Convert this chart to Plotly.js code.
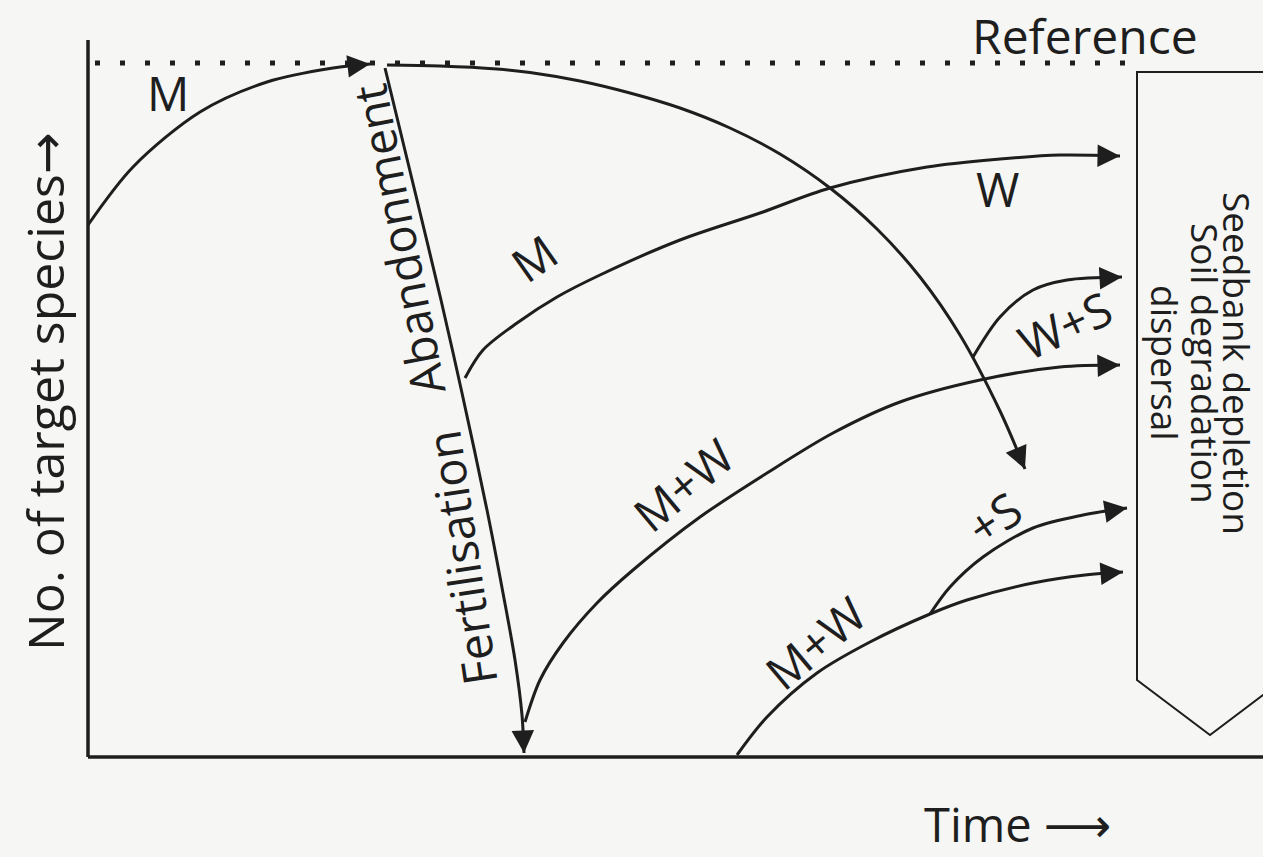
<!DOCTYPE html>
<html>
<head>
<meta charset="utf-8">
<script src="https://cdn.plot.ly/plotly-3.0.1.min.js"></script>
<style>
  html, body { margin: 0; padding: 0; background: #f6f6f4; }
  #chart { width: 1263px; height: 857px; }
</style>
</head>
<body>
<div id="chart"></div>
<script>
// time runs along x, number of target species along y (arbitrary units, origin at the axes corner)
var referenceLevel = 694;
var referenceFrom = 7, referenceTo = 1055;

// M : management from the start, rising to the reference
var mgmtT = [0, 45, 112, 179, 245, 282];
var mgmtS = [532, 590, 645, 675, 689, 693];

// decline after abandonment
var abandonT = [299, 352, 409, 442, 492, 542, 592, 642, 692, 742, 789, 832, 872, 912, 937];
var abandonS = [692, 691, 688, 684.5, 676, 664, 649, 629, 603, 569, 528, 480, 422, 346, 288];

// fertilisation: steep fall to the time axis
var fertT = [297, 329, 353, 374, 399, 415, 427, 434, 436];
var fertS = [689, 557, 457, 364, 247, 164, 97, 42, 4];

// M after abandonment
var mAfterT = [377, 395, 429, 469, 512, 592, 672, 742, 839, 912, 972, 1032];
var mAfterS = [379, 407, 434, 460, 482, 517, 544, 569, 590, 598, 602, 601];

// M+W after fertilisation
var mwUpperT = [437, 452, 475, 509, 545, 612, 679, 745, 812, 892, 972, 1032];
var mwUpperS = [35, 77, 114, 154, 187, 240, 284, 324, 355, 377, 390, 392];

// W+S branch from the abandonment decline
var wsT = [885, 912, 945, 979, 1034];
var wsS = [400, 440, 467, 477, 480];

// M+W starting from nothing, late
var mwLowerT = [649, 679, 729, 782, 842, 879, 945, 997, 1035];
var mwLowerS = [2, 40, 84, 115, 143, 157, 174, 182, 185];

// +S branch from the lower M+W
var plusST = [842, 862, 895, 945, 995, 1039];
var plusSS = [143, 170, 200, 229, 242, 249];

// the barrier box on the right and its three lines of text
var boxT = [1195, 1049, 1049, 1122, 1195, 1195];
var boxS = [685, 685, 77, 22, 77, 685];
var boxLines = ['Seedbank depletion', 'Soil degradation', 'dispersal'];
var boxLineT = [1150, 1118, 1078];

var ink = '#1e1e1e';
var fontFam = '"Open Sans", "DejaVu Sans", sans-serif';

function curve(t, s) {
  return {x: t, y: s, mode: 'lines', hoverinfo: 'skip',
          line: {color: ink, width: 3, shape: 'spline', smoothing: 0.9}};
}

var arrowCurves = [[mgmtT, mgmtS], [abandonT, abandonS], [fertT, fertS], [mAfterT, mAfterS],
                   [mwUpperT, mwUpperS], [wsT, wsS], [mwLowerT, mwLowerS], [plusST, plusSS]];

var data = [
  {x: [referenceFrom, referenceTo], y: [referenceLevel, referenceLevel], mode: 'lines', hoverinfo: 'skip',
   line: {color: ink, width: 5, dash: '5px,20px'}},
  {x: boxT, y: boxS, mode: 'lines', hoverinfo: 'skip', line: {color: ink, width: 2}}
];
arrowCurves.forEach(function (c) { data.push(curve(c[0], c[1])); });

var annotations = [];
arrowCurves.forEach(function (c) {
  var n = c[0].length;
  var tx = c[0][n - 1], ty = c[1][n - 1];
  var dx = tx - c[0][n - 2], dy = ty - c[1][n - 2];
  var len = Math.sqrt(dx * dx + dy * dy);
  annotations.push({x: tx, y: ty, ax: tx - 20 * dx / len, ay: ty - 20 * dy / len,
    xref: 'x', yref: 'y', axref: 'x', ayref: 'y', text: '', showarrow: true,
    arrowhead: 2, arrowsize: 1.5, arrowwidth: 3, arrowcolor: ink, standoff: 0});
});

function label(text, t, s, angle, size) {
  return {x: t, y: s, xref: 'x', yref: 'y', text: text, showarrow: false,
          textangle: angle || 0, font: {family: fontFam, size: size || 47, color: ink}};
}
annotations.push(
  label('M', 80, 664),
  label('Abandonment', 310, 517, -101),
  label('Fertilisation', 373, 199, -98.5),
  label('M', 446, 499, -35),
  label('W', 909, 568),
  label('W+S', 977, 432, -25),
  label('M+W', 595, 272, -40),
  label('M+W', 727, 114, -40),
  label('+S', 906, 239, -34),
  label('Reference', 997, 722, 0, 48),
  label('No. of target species\u2192', -43, 365, -90, 50)
);
var timeLabel = label('Time \u27f6', 929, -100);
timeLabel.yanchor = 'bottom';
timeLabel.borderpad = 0;
annotations.push(timeLabel);
boxLines.forEach(function (txt, i) {
  var a = label(txt, boxLineT[i], 394, 90, 37);
  a.borderpad = 0;
  annotations.push(a);
});

var layout = {
  width: 1263, height: 857,
  margin: {l: 0, r: 0, t: 0, b: 0},
  paper_bgcolor: '#f6f6f4', plot_bgcolor: '#f6f6f4',
  showlegend: false,
  xaxis: {range: [-88, 1175], visible: false, fixedrange: true},
  yaxis: {range: [-100, 757], visible: false, fixedrange: true},
  shapes: [
    {type: 'line', xref: 'x', yref: 'y', x0: 0, y0: 0, x1: 0, y1: 717, line: {color: ink, width: 3.5}},
    {type: 'line', xref: 'x', yref: 'y', x0: 0, y0: 0, x1: 1200, y1: 0, line: {color: ink, width: 3.5}}
  ],
  annotations: annotations
};

Plotly.newPlot('chart', data, layout, {staticPlot: true});
</script>
</body>
</html>
